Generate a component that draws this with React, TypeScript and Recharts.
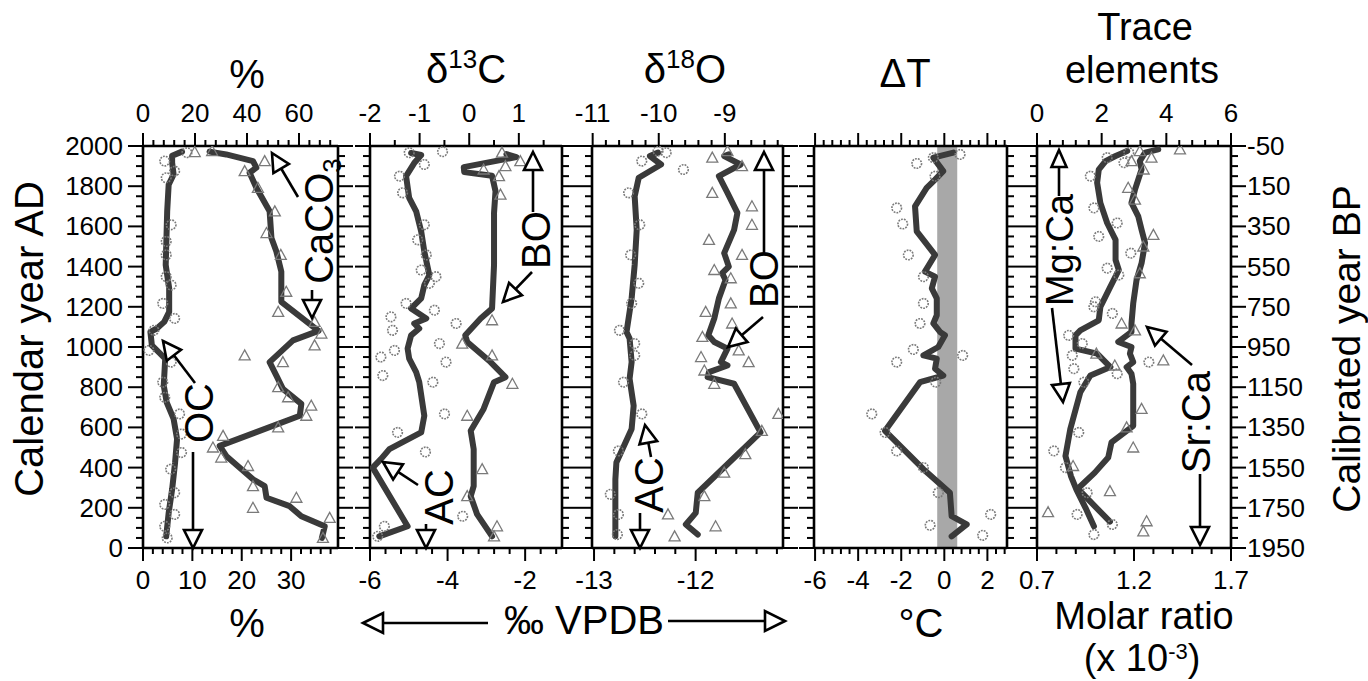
import React from 'react';
import { ScatterChart, Scatter, XAxis, YAxis, ReferenceArea } from 'recharts';

const FONT = '"Liberation Sans", Arimo, Arial, Helvetica, sans-serif';
const PAGE_W = 1368;
const PAGE_H = 681;
const PLOT_TOP = 146;
const PLOT_BOTTOM = 548;
const LINE_COLOR = '#3a3a3a';
const MARK_COLOR = '#7a7a7a';

type Pt = [number, number];

function range(a: number, b: number, step: number): number[] {
  const out: number[] = [];
  for (let i = 0; a + i * step <= b + 1e-9; i++) out.push(+(a + i * step).toFixed(4));
  return out;
}

// ---------- Year axis ----------
const YEAR_TICKS = range(0, 2000, 50);
const YEAR_MAJORS = [0, 200, 400, 600, 800, 1000, 1200, 1400, 1600, 1800, 2000];

// ---------- Panel 1 : OC (bottom %) and CaCO3 (top %) ----------
const ocLine: Pt[] = [[1972, 7.9], [1951, 5.9], [1917, 5.9], [1858, 6.2], [1808, 5.2], [1676, 4.9], [1408, 4.6], [1292, 5.3], [1175, 5.3], [1125, 4.3], [1092, 2.8], [1075, 1.5], [1008, 1.8], [942, 4.5], [808, 4.2], [725, 4.8], [642, 6.2], [542, 6.9], [425, 6.5], [292, 5.9], [175, 5.2], [58, 4.7]];
const ocPoints: Pt[] = [[1967, 8.9], [1925, 4.4], [1875, 6.4], [1842, 4.7], [1608, 5.7], [1525, 4.7], [1458, 4.7], [1350, 4.7], [1308, 5.7], [1217, 4.0], [1142, 6.4], [1083, 2.2], [983, 1.2], [925, 5.7], [825, 4.0], [750, 4.4], [667, 7.4], [567, 7.8], [475, 7.8], [392, 5.6], [275, 6.4], [217, 4.4], [167, 6.4], [108, 4.4], [50, 4.9]];
const caco3Line: Pt[] = [[1972, 25.6], [1958, 32], [1925, 42.3], [1892, 43.6], [1867, 41], [1792, 43.6], [1675, 48.7], [1542, 49.4], [1475, 51.3], [1375, 53.2], [1225, 53.2], [1080, 67.5], [1033, 57.7], [925, 48.7], [858, 51.3], [792, 53.8], [717, 60.9], [658, 60.3], [508, 29.5], [458, 32], [342, 42.3], [308, 46.8], [250, 47.5], [208, 56.4], [158, 60.9], [108, 69.9], [50, 68.8]];
const caco3Points: Pt[] = [[1970, 19.9], [1975, 26.6], [1925, 46.8], [1875, 39.1], [1792, 44.2], [1675, 50.7], [1567, 47.5], [1458, 53], [1275, 55.1], [1175, 52], [1125, 66], [1067, 68.6], [1008, 66], [958, 39.1], [925, 53.8], [800, 52], [750, 55.8], [708, 64.7], [658, 62.8], [600, 52], [558, 30.8], [500, 26.9], [450, 30.1], [408, 40.4], [308, 42.3], [250, 59], [200, 42.3], [150, 71.8], [50, 69.2]];

// ---------- Panel 2 : d13C AC (bottom) and BO (top) ----------
const c13AcLine: Pt[] = [[1965, -4.94], [1955, -4.68], [1915, -4.86], [1850, -5.07], [1742, -4.99], [1675, -4.81], [1575, -4.68], [1475, -4.6], [1358, -4.47], [1308, -4.6], [1242, -4.68], [1192, -4.94], [1142, -4.55], [1117, -4.86], [1092, -4.73], [1058, -4.94], [992, -5.03], [942, -4.99], [875, -4.81], [825, -4.73], [658, -4.6], [575, -4.68], [492, -5.5], [442, -5.72], [400, -5.93], [108, -5.03], [58, -5.76]];
const c13AcPoints: Pt[] = [[1967, -4.99], [1972, -4.13], [1908, -4.6], [1850, -5.24], [1767, -5.16], [1608, -4.6], [1533, -4.77], [1458, -4.55], [1383, -4.68], [1350, -4.3], [1317, -4.47], [1217, -5.07], [1183, -4.34], [1150, -5.46], [1117, -3.78], [1083, -5.42], [1017, -4.21], [983, -5.37], [950, -5.72], [925, -4.04], [858, -5.67], [825, -4.38], [667, -4.08], [575, -5.29], [478, -4.57], [158, -3.61], [108, -5.63], [58, -5.8]];
const c13BoLine: Pt[] = [[1960, 0.75], [1945, 0.95], [1895, -0.11], [1870, -0.1], [1852, 0.46], [1775, 0.53], [1667, 0.5], [1408, 0.5], [1192, 0.46], [1142, 0.23], [1058, -0.08], [1025, -0.04], [925, 0.43], [850, 0.73], [825, 0.5], [692, 0.29], [583, 0.03], [492, 0.09], [308, 0.09], [258, 0.03], [167, 0.16], [58, 0.46]];
const c13BoPoints: Pt[] = [[1967, 0.66], [1925, 1.03], [1900, 0.73], [1883, 0.29], [1850, 0.6], [1758, 0.63], [1133, 0.46], [1017, -0.14], [958, 0.46], [817, 0.87], [658, -0.04], [392, 0.26], [258, -0.04], [108, 0.56], [58, 0.5]];

// ---------- Panel 3 : d18O AC (bottom) and BO (top) ----------
const o18AcLine: Pt[] = [[1967, -12.37], [1950, -12.45], [1908, -12.34], [1842, -12.56], [1750, -12.6], [1583, -12.58], [1408, -12.6], [1242, -12.63], [1075, -12.68], [1042, -12.65], [925, -12.63], [842, -12.65], [708, -12.61], [592, -12.63], [425, -12.78], [342, -12.79], [58, -12.79]];
const o18AcPoints: Pt[] = [[1975, -12.37], [1967, -12.29], [1925, -12.53], [1883, -12.12], [1767, -12.66], [1608, -12.55], [1458, -12.64], [1317, -12.56], [1217, -12.63], [1083, -12.75], [1017, -12.6], [958, -12.6], [825, -12.71], [667, -12.53], [483, -12.76], [267, -12.84], [167, -12.76], [67, -12.77]];
const o18BoLine: Pt[] = [[1958, -8.94], [1950, -9.01], [1908, -8.76], [1850, -9.09], [1767, -8.96], [1667, -8.81], [1583, -8.86], [1467, -9.01], [1400, -8.94], [1367, -9.04], [1333, -8.99], [1242, -9.09], [1142, -9.16], [1058, -9.25], [1025, -9.16], [992, -8.96], [925, -9.06], [908, -8.96], [875, -9.24], [850, -9.26], [817, -8.86], [575, -8.46], [275, -9.41], [175, -9.44], [117, -9.59], [67, -9.41]];
const o18BoPoints: Pt[] = [[1975, -8.96], [1942, -9.19], [1900, -8.74], [1767, -9.19], [1700, -8.59], [1608, -8.59], [1533, -9.24], [1458, -8.74], [1383, -9.16], [1342, -8.91], [1217, -8.91], [1175, -9.29], [1117, -8.89], [1050, -9.34], [983, -8.79], [950, -9.36], [925, -8.64], [883, -9.31], [817, -9.16], [667, -8.19], [583, -8.44], [467, -8.69], [375, -9.01], [258, -9.31], [167, -9.86], [108, -9.14], [58, -9.76]];

// ---------- Panel 4 : delta T ----------
const dtLine: Pt[] = [[1967, 0.42], [1942, -0.51], [1875, -0.05], [1833, -0.43], [1792, -0.82], [1700, -1.36], [1575, -1.28], [1458, -0.43], [1375, -0.9], [1350, -0.43], [1292, -0.58], [1242, -0.35], [1158, -0.35], [1117, -0.51], [1075, -0.2], [1058, 0.03], [1000, -0.28], [958, -0.97], [942, -0.35], [892, -0.43], [858, -0.05], [825, -1.13], [583, -2.75], [392, -0.97], [275, 0.26], [158, 0.34], [117, 1.04], [58, 0.34]];
const dtPoints: Pt[] = [[1958, 0.73], [1942, -0.51], [1913, -1.28], [1850, -0.43], [1692, -2.21], [1612, -1.93], [1458, -1.67], [1350, -0.97], [1217, -0.97], [1117, -1.13], [988, -1.44], [958, 0.85], [925, -2.21], [825, -0.4], [667, -3.37], [575, -2.75], [483, -2.21], [400, -0.97], [275, -0.28], [167, 2.15], [113, -0.66], [63, 1.78]];
const dtBand: [number, number] = [-0.33, 0.6];

// ---------- Panel 5 : Mg:Ca (top) and Sr:Ca (bottom) ----------
const mgLine: Pt[] = [[1975, 2.79], [1950, 2.43], [1925, 2.12], [1883, 1.91], [1817, 1.86], [1717, 1.96], [1617, 2.17], [1533, 2.43], [1433, 2.43], [1383, 2.53], [1300, 2.27], [1200, 1.96], [1133, 1.91], [1083, 1.34], [1058, 1.19], [992, 1.19], [967, 1.86], [900, 2.27], [858, 1.65], [775, 1.34], [592, 1.03], [458, 0.88], [358, 1.05], [290, 1.22], [200, 1.5], [108, 1.76]];
const mgPoints: Pt[] = [[1967, 2.84], [1942, 2.17], [1917, 2.69], [1850, 1.65], [1692, 1.76], [1617, 2.48], [1550, 1.91], [1467, 2.9], [1392, 2.17], [1358, 2.53], [1225, 1.81], [1200, 1.76], [1167, 2.33], [1058, 0.98], [1017, 1.4], [958, 1.09], [925, 3.46], [892, 1.14], [867, 2.48], [825, 1.45], [575, 1.29], [483, 0.52], [400, 0.88], [275, 1.55], [167, 1.24], [117, 2.33], [67, 1.76]];
const srLine: Pt[] = [[1983, 1.325], [1967, 1.257], [1925, 1.23], [1883, 1.239], [1783, 1.205], [1717, 1.187], [1650, 1.222], [1583, 1.239], [1517, 1.257], [1417, 1.239], [1333, 1.213], [1217, 1.196], [1117, 1.187], [1075, 1.187], [1025, 1.119], [1000, 1.187], [967, 1.179], [925, 1.196], [900, 1.162], [867, 1.187], [817, 1.196], [608, 1.196], [525, 1.084], [450, 1.067], [375, 0.998], [295, 0.91], [131, 1.076]];
const srPoints: Pt[] = [[1983, 1.437], [1975, 1.23], [1942, 1.29], [1925, 1.187], [1883, 1.25], [1792, 1.17], [1733, 1.205], [1558, 1.3], [1500, 1.248], [1367, 1.23], [1117, 1.136], [1083, 1.205], [967, 1.006], [933, 1.351], [908, 1.101], [692, 1.239], [600, 1.162], [500, 1.196], [408, 0.886], [283, 1.076], [178, 0.757], [133, 1.265], [83, 1.248]];

// ---------- panel specs ----------
type AxisSpec = { domain: [number, number]; ticks: number[]; majors: number[]; labels: boolean };
type Series = { pts: Pt[]; axis: 'top' | 'bottom'; kind: 'line' | 'circle' | 'triangle' };
type PanelSpec = { L: number; R: number; top: AxisSpec; bottom: AxisSpec; leftLabels: boolean; rightLabels: boolean; series: Series[]; band?: [number, number] };

const panels: PanelSpec[] = [
  {
    L: 143, R: 338,
    top: { domain: [0, 75], ticks: range(0, 72, 4), majors: [0, 20, 40, 60], labels: true },
    bottom: { domain: [0, 39.5], ticks: range(0, 38, 2), majors: [0, 10, 20, 30], labels: true },
    leftLabels: true, rightLabels: false,
    series: [
      { pts: ocLine, axis: 'bottom', kind: 'line' },
      { pts: caco3Line, axis: 'top', kind: 'line' },
      { pts: ocPoints, axis: 'bottom', kind: 'circle' },
      { pts: caco3Points, axis: 'top', kind: 'triangle' },
    ],
  },
  {
    L: 370, R: 562,
    top: { domain: [-2, 1.87], ticks: range(-2, 1.5, 0.5), majors: [-2, -1, 0, 1], labels: true },
    bottom: { domain: [-6, -1.05], ticks: range(-6, -1.2, 0.4), majors: [-6, -4, -2], labels: true },
    leftLabels: false, rightLabels: false,
    series: [
      { pts: c13AcLine, axis: 'bottom', kind: 'line' },
      { pts: c13BoLine, axis: 'top', kind: 'line' },
      { pts: c13AcPoints, axis: 'bottom', kind: 'circle' },
      { pts: c13BoPoints, axis: 'top', kind: 'triangle' },
    ],
  },
  {
    L: 592, R: 783,
    top: { domain: [-11.01, -8.12], ticks: range(-11, -8.2, 0.2), majors: [-11, -10, -9], labels: true },
    bottom: { domain: [-13.02, -11.14], ticks: range(-13, -11.2, 0.2), majors: [-13, -12], labels: true },
    leftLabels: false, rightLabels: false,
    series: [
      { pts: o18AcLine, axis: 'bottom', kind: 'line' },
      { pts: o18BoLine, axis: 'top', kind: 'line' },
      { pts: o18AcPoints, axis: 'bottom', kind: 'circle' },
      { pts: o18BoPoints, axis: 'top', kind: 'triangle' },
    ],
  },
  {
    L: 814, R: 1007,
    top: { domain: [-6.05, 2.91], ticks: range(-6, 2.8, 0.4), majors: [-6, -4, -2, 0, 2], labels: false },
    bottom: { domain: [-6.05, 2.91], ticks: range(-6, 2.8, 0.4), majors: [-6, -4, -2, 0, 2], labels: true },
    leftLabels: false, rightLabels: false,
    band: dtBand,
    series: [
      { pts: dtLine, axis: 'bottom', kind: 'line' },
      { pts: dtPoints, axis: 'bottom', kind: 'circle' },
    ],
  },
  {
    L: 1037, R: 1231,
    top: { domain: [0, 6], ticks: range(0, 6, 0.4), majors: [0, 2, 4, 6], labels: true },
    bottom: { domain: [0.7, 1.7], ticks: range(0.7, 1.7, 0.1), majors: [0.7, 1.2, 1.7], labels: true },
    leftLabels: false, rightLabels: true,
    series: [
      { pts: mgLine, axis: 'top', kind: 'line' },
      { pts: srLine, axis: 'bottom', kind: 'line' },
      { pts: mgPoints, axis: 'top', kind: 'circle' },
      { pts: srPoints, axis: 'bottom', kind: 'triangle' },
    ],
  },
];

const toData = (pts: Pt[]) => pts.map(([year, v]) => ({ year, v }));
const isMajor = (majors: number[], v: number) => majors.some((m) => Math.abs(m - v) < 1e-6);

const AXIS_LINE = { stroke: '#000', strokeWidth: 2.6 };

const makeXTick = (side: 'top' | 'bottom', spec: AxisSpec) => (props: any) => {
  const { x, y, payload } = props;
  const v = payload.value;
  const major = isMajor(spec.majors, v);
  const len = major ? 13 : 6;
  const dir = side === 'top' ? -1 : 1;
  return (
    <g>
      <line x1={x} x2={x} y1={y} y2={y + dir * len} stroke="#000" strokeWidth={2} />
      {major && spec.labels ? (
        <text x={x} y={side === 'top' ? y - 24 : y + 41} textAnchor="middle" fontSize={26} fontFamily={FONT} fill="#000">
          {String(v)}
        </text>
      ) : null}
    </g>
  );
};

const makeYTick = (side: 'left' | 'right', labels: boolean, fmt: (v: number) => string) => (props: any) => {
  const { x, y, payload } = props;
  const v = payload.value;
  const major = isMajor(YEAR_MAJORS, v);
  const len = major ? 15 : 7;
  const dir = side === 'left' ? -1 : 1;
  return (
    <g>
      <line x1={x} x2={x + dir * len} y1={y} y2={y} stroke="#000" strokeWidth={2} />
      {major && labels ? (
        <text x={side === 'left' ? x - 20 : x + 16} y={y + 9} textAnchor={side === 'left' ? 'end' : 'start'} fontSize={26} fontFamily={FONT} fill="#000">
          {fmt(v)}
        </text>
      ) : null}
    </g>
  );
};

const circleShape = (p: any) => <circle cx={p.cx} cy={p.cy} r={4.8} fill="none" stroke={MARK_COLOR} strokeWidth={1.6} strokeDasharray="1.8 1.1" />;
const triangleShape = (p: any) => (
  <polygon points={`${p.cx},${p.cy - 5.5} ${p.cx - 5.5},${p.cy + 4.5} ${p.cx + 5.5},${p.cy + 4.5}`} fill="none" stroke={MARK_COLOR} strokeWidth={1.3} />
);
const noShape = () => <g />;

function Panel({ spec }: { spec: PanelSpec }) {
  return (
    <div style={{ position: 'absolute', left: 0, top: 0 }}>
      <ScatterChart width={PAGE_W} height={PAGE_H} margin={{ top: 0, right: 0, bottom: 0, left: 0 }}>
        <XAxis xAxisId="top" orientation="top" type="number" dataKey="v" domain={spec.top.domain} allowDataOverflow ticks={spec.top.ticks} interval={0} height={PLOT_TOP} tickSize={0} tickMargin={0} tickLine={false} axisLine={AXIS_LINE} tick={makeXTick('top', spec.top)} />
        <XAxis xAxisId="bottom" orientation="bottom" type="number" dataKey="v" domain={spec.bottom.domain} allowDataOverflow ticks={spec.bottom.ticks} interval={0} height={PAGE_H - PLOT_BOTTOM} tickSize={0} tickMargin={0} tickLine={false} axisLine={AXIS_LINE} tick={makeXTick('bottom', spec.bottom)} />
        <YAxis yAxisId="left" orientation="left" type="number" dataKey="year" domain={[0, 2000]} allowDataOverflow ticks={YEAR_TICKS} interval={0} width={spec.L} tickSize={0} tickMargin={0} tickLine={false} axisLine={AXIS_LINE} tick={makeYTick('left', spec.leftLabels, (v) => String(v))} />
        <YAxis yAxisId="right" orientation="right" type="number" dataKey="year" domain={[0, 2000]} allowDataOverflow ticks={YEAR_TICKS} interval={0} width={PAGE_W - spec.R} tickSize={0} tickMargin={0} tickLine={false} axisLine={AXIS_LINE} tick={makeYTick('right', spec.rightLabels, (v) => String(1950 - v))} />
        {spec.band ? (
          <ReferenceArea xAxisId="bottom" yAxisId="left" x1={spec.band[0]} x2={spec.band[1]} y1={0} y2={2000} fill="#a8a8a8" fillOpacity={1} stroke="none" ifOverflow="hidden" />
        ) : null}
        {spec.series.map((s, i) =>
          s.kind === 'line' ? (
            <Scatter key={i} data={toData(s.pts)} xAxisId={s.axis} yAxisId="left" lineType="joint" line={{ stroke: LINE_COLOR, strokeWidth: 6, strokeLinejoin: 'round', strokeLinecap: 'round' }} fill={LINE_COLOR} shape={noShape} isAnimationActive={false} />
          ) : (
            <Scatter key={i} data={toData(s.pts)} xAxisId={s.axis} yAxisId="left" fill={MARK_COLOR} shape={s.kind === 'circle' ? circleShape : triangleShape} isAnimationActive={false} />
          )
        )}
      </ScatterChart>
    </div>
  );
}

function Arrow({ x1, y1, x2, y2, head = 18, width = 18 }: { x1: number; y1: number; x2: number; y2: number; head?: number; width?: number }) {
  const dx = x2 - x1;
  const dy = y2 - y1;
  const len = Math.hypot(dx, dy);
  const ux = dx / len;
  const uy = dy / len;
  const bx = x2 - ux * head;
  const by = y2 - uy * head;
  const px = (-uy * width) / 2;
  const py = (ux * width) / 2;
  return (
    <g>
      <line x1={x1} y1={y1} x2={bx} y2={by} stroke="#000" strokeWidth={2.6} />
      <polygon points={`${x2},${y2} ${bx + px},${by + py} ${bx - px},${by - py}`} fill="#fff" stroke="#000" strokeWidth={2.6} strokeLinejoin="miter" />
    </g>
  );
}

function VText({ x, y, size = 40, children }: { x: number; y: number; size?: number; children: React.ReactNode }) {
  return (
    <text transform={`translate(${x},${y}) rotate(-90)`} textAnchor="middle" fontSize={size} fontFamily={FONT} fill="#000">
      {children}
    </text>
  );
}

function Overlay() {
  const t = { fontFamily: FONT, fill: '#000', textAnchor: 'middle' as const };
  return (
    <svg width={PAGE_W} height={PAGE_H} style={{ position: 'absolute', left: 0, top: 0, pointerEvents: 'none' }}>
      {/* top titles */}
      <text x={247} y={88} fontSize={40} {...t}>%</text>
      <text x={466} y={83} fontSize={40} {...t}>δ<tspan fontSize={26} dy={-15}>13</tspan><tspan fontSize={40} dy={15}>C</tspan></text>
      <text x={685} y={83} fontSize={40} {...t}>δ<tspan fontSize={26} dy={-15}>18</tspan><tspan fontSize={40} dy={15}>O</tspan></text>
      <text x={905} y={87} fontSize={40} {...t}>ΔT</text>
      <text x={1145} y={40} fontSize={38} {...t}>Trace</text>
      <text x={1142} y={83} fontSize={38} {...t}>elements</text>

      {/* side titles */}
      <VText x={43} y={339}>Calendar year AD</VText>
      <VText x={1360} y={349} size={39}>Calibrated year BP</VText>

      {/* bottom titles */}
      <text x={247} y={637} fontSize={40} {...t}>%</text>
      <Arrow x1={488} y1={623} x2={363} y2={623} head={20} width={20} />
      <text x={584} y={634} fontSize={40} {...t}>‰ VPDB</text>
      <Arrow x1={668} y1={621} x2={785} y2={621} head={20} width={20} />
      <text x={921} y={637} fontSize={40} {...t}>°C</text>
      <text x={1144} y={629} fontSize={38} {...t}>Molar ratio</text>
      <text x={1142} y={671} fontSize={38} {...t}>(x 10<tspan fontSize={22} dy={-12}>-3</tspan><tspan fontSize={38} dy={12}>)</tspan></text>

      {/* panel 1 annotations */}
      <VText x={213} y={413}>OC</VText>
      <Arrow x1={195} y1={383} x2={163} y2={341} />
      <Arrow x1={193} y1={452} x2={193} y2={548} />
      <VText x={333} y={221}>CaCO<tspan fontSize={26} dy={8}>3</tspan></VText>
      <Arrow x1={298} y1={197} x2={272} y2={153} />
      <Arrow x1={312} y1={290} x2={312} y2={318} />

      {/* panel 2 annotations */}
      <VText x={453} y={497}>AC</VText>
      <Arrow x1={418} y1={485} x2={383} y2={462} />
      <Arrow x1={426} y1={524} x2={426} y2={548} />
      <VText x={550} y={240}>BO</VText>
      <Arrow x1={533} y1={212} x2={533} y2={152} />
      <Arrow x1={532} y1={272} x2={503} y2={302} />

      {/* panel 3 annotations */}
      <VText x={663} y={485}>AC</VText>
      <Arrow x1={651} y1={457} x2={645} y2={425} />
      <Arrow x1={640} y1={513} x2={640} y2={548} />
      <VText x={778} y={279}>BO</VText>
      <Arrow x1={764} y1={252} x2={764} y2={152} />
      <Arrow x1={763} y1={317} x2={728} y2={347} />

      {/* panel 5 annotations */}
      <VText x={1073} y={250} size={38}>Mg:Ca</VText>
      <Arrow x1={1059} y1={196} x2={1059} y2={150} head={17} width={15} />
      <Arrow x1={1052} y1={308} x2={1063} y2={402} />
      <VText x={1210} y={422}>Sr:Ca</VText>
      <Arrow x1={1200} y1={474} x2={1200} y2={545} />
      <Arrow x1={1192} y1={365} x2={1147} y2={327} />
    </svg>
  );
}

export default function App() {
  return (
    <div style={{ position: 'absolute', left: 0, top: 0, width: PAGE_W, height: PAGE_H, background: '#fff', fontFamily: FONT }}>
      {panels.map((p, i) => (
        <Panel key={i} spec={p} />
      ))}
      <Overlay />
    </div>
  );
}
